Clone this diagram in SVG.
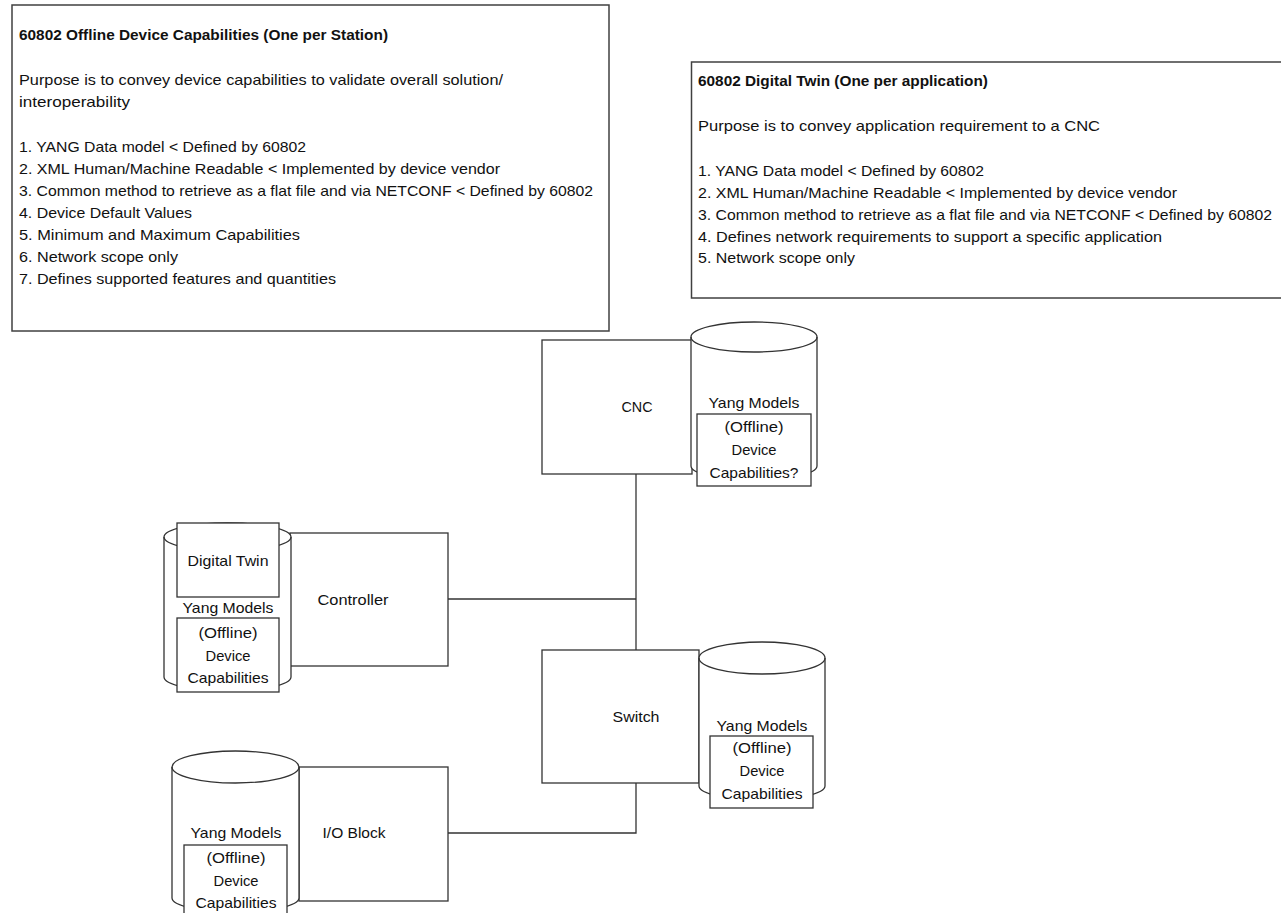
<svg xmlns="http://www.w3.org/2000/svg" width="1281" height="913" viewBox="0 0 1281 913">
<style>
.box{fill:#fff;stroke:#404040;stroke-width:1.5}
.shape{fill:#fff;stroke:#333;stroke-width:1.3}
.conn{fill:none;stroke:#333;stroke-width:1.3}
text{font-family:"Liberation Sans",Arial,sans-serif;font-size:14.5px;fill:#111}
.t{font-weight:bold}
.c{text-anchor:middle;font-size:15px}
</style>
<rect width="1281" height="913" fill="#fff"/>
<g id="note-offline">
<rect class="box" x="12" y="5" width="597" height="326"/>
<text class="t" x="19" y="40" textLength="369" lengthAdjust="spacingAndGlyphs">60802 Offline Device Capabilities (One per Station)</text>
<text x="19" y="85" textLength="484" lengthAdjust="spacingAndGlyphs">Purpose is to convey device capabilities to validate overall solution/</text>
<text x="19" y="107" textLength="111" lengthAdjust="spacingAndGlyphs">interoperability</text>
<text x="19" y="152" textLength="287" lengthAdjust="spacingAndGlyphs">1. YANG Data model &lt; Defined by 60802</text>
<text x="19" y="174" textLength="481" lengthAdjust="spacingAndGlyphs">2. XML Human/Machine Readable &lt; Implemented by device vendor</text>
<text x="19" y="196" textLength="574" lengthAdjust="spacingAndGlyphs">3. Common method to retrieve as a flat file and via NETCONF &lt; Defined by 60802</text>
<text x="19" y="218" textLength="173" lengthAdjust="spacingAndGlyphs">4. Device Default Values</text>
<text x="19" y="240" textLength="281" lengthAdjust="spacingAndGlyphs">5. Minimum and Maximum Capabilities</text>
<text x="19" y="262" textLength="159" lengthAdjust="spacingAndGlyphs">6. Network scope only</text>
<text x="19" y="284" textLength="317" lengthAdjust="spacingAndGlyphs">7. Defines supported features and quantities</text>
</g>
<g id="note-twin">
<rect class="box" x="691.5" y="62" width="600" height="236"/>
<text class="t" x="698" y="86" textLength="290" lengthAdjust="spacingAndGlyphs">60802 Digital Twin (One per application)</text>
<text x="698" y="131" textLength="402" lengthAdjust="spacingAndGlyphs">Purpose is to convey application requirement to a CNC</text>
<text x="698" y="176" textLength="286" lengthAdjust="spacingAndGlyphs">1. YANG Data model &lt; Defined by 60802</text>
<text x="698" y="198" textLength="479" lengthAdjust="spacingAndGlyphs">2. XML Human/Machine Readable &lt; Implemented by device vendor</text>
<text x="698" y="220" textLength="574" lengthAdjust="spacingAndGlyphs">3. Common method to retrieve as a flat file and via NETCONF &lt; Defined by 60802</text>
<text x="698" y="242" textLength="464" lengthAdjust="spacingAndGlyphs">4. Defines network requirements to support a specific application</text>
<text x="698" y="263" textLength="157" lengthAdjust="spacingAndGlyphs">5. Network scope only</text>
</g>
<g id="connectors">
<path class="conn" d="M636,474 L636,650"/>
<path class="conn" d="M448,599 L636,599"/>
<path class="conn" d="M636,783 L636,833 L448,833"/>
</g>
<g id="cnc">
<rect class="shape" x="542" y="340" width="150" height="134"/>
<text class="c" x="637" y="412" textLength="31" lengthAdjust="spacingAndGlyphs">CNC</text>
</g>
<g id="cnc-yang">
<path class="shape" d="M691,337 A63,15 0 0 1 817,337 L817,466 A63,14 0 0 1 691,466 Z"/>
<path class="conn" d="M691,337 A63,15 0 0 0 817,337"/>
<text class="c" x="754" y="408" textLength="91" lengthAdjust="spacingAndGlyphs">Yang Models</text>
<rect class="shape" x="697" y="414" width="114" height="72"/>
<text class="c" x="754" y="432" textLength="59" lengthAdjust="spacingAndGlyphs">(Offline)</text>
<text class="c" x="754" y="455" textLength="45" lengthAdjust="spacingAndGlyphs">Device</text>
<text class="c" x="754" y="478" textLength="89" lengthAdjust="spacingAndGlyphs">Capabilities?</text>
</g>
<g id="controller">
<rect class="shape" x="290" y="533" width="158" height="133"/>
<text class="c" x="353" y="605" textLength="71" lengthAdjust="spacingAndGlyphs">Controller</text>
</g>
<g id="controller-yang">
<path class="shape" d="M164,537 A63.5,14 0 0 1 291,537 L291,677 A63.5,14 0 0 1 164,677 Z"/>
<path class="conn" d="M164,537 A63.5,14 0 0 0 291,537"/>
<rect class="shape" x="177" y="523" width="102" height="74"/>
<text class="c" x="228" y="566" textLength="81" lengthAdjust="spacingAndGlyphs">Digital Twin</text>
<text class="c" x="228" y="613" textLength="91" lengthAdjust="spacingAndGlyphs">Yang Models</text>
<rect class="shape" x="177" y="618" width="102" height="74"/>
<text class="c" x="228" y="638" textLength="59" lengthAdjust="spacingAndGlyphs">(Offline)</text>
<text class="c" x="228" y="661" textLength="45" lengthAdjust="spacingAndGlyphs">Device</text>
<text class="c" x="228" y="683" textLength="81" lengthAdjust="spacingAndGlyphs">Capabilities</text>
</g>
<g id="switch">
<rect class="shape" x="542" y="650" width="157" height="133"/>
<text class="c" x="636" y="722" textLength="47" lengthAdjust="spacingAndGlyphs">Switch</text>
</g>
<g id="switch-yang">
<path class="shape" d="M699,658 A63,16 0 0 1 825,658 L825,786 A63,14 0 0 1 699,786 Z"/>
<path class="conn" d="M699,658 A63,16 0 0 0 825,658"/>
<text class="c" x="762" y="731" textLength="91" lengthAdjust="spacingAndGlyphs">Yang Models</text>
<rect class="shape" x="710" y="736" width="103" height="72"/>
<text class="c" x="762" y="753" textLength="59" lengthAdjust="spacingAndGlyphs">(Offline)</text>
<text class="c" x="762" y="776" textLength="45" lengthAdjust="spacingAndGlyphs">Device</text>
<text class="c" x="762" y="799" textLength="81" lengthAdjust="spacingAndGlyphs">Capabilities</text>
</g>
<g id="io-block">
<rect class="shape" x="299" y="767" width="149" height="134"/>
<text class="c" x="354" y="838" textLength="63" lengthAdjust="spacingAndGlyphs">I/O Block</text>
</g>
<g id="io-yang">
<path class="shape" d="M172,767 A63.5,16 0 0 1 299,767 L299,898 A63.5,14 0 0 1 172,898 Z"/>
<path class="conn" d="M172,767 A63.5,16 0 0 0 299,767"/>
<text class="c" x="236" y="838" textLength="91" lengthAdjust="spacingAndGlyphs">Yang Models</text>
<rect class="shape" x="184" y="845" width="103" height="72"/>
<text class="c" x="236" y="863" textLength="59" lengthAdjust="spacingAndGlyphs">(Offline)</text>
<text class="c" x="236" y="886" textLength="45" lengthAdjust="spacingAndGlyphs">Device</text>
<text class="c" x="236" y="908" textLength="81" lengthAdjust="spacingAndGlyphs">Capabilities</text>
</g>
</svg>
